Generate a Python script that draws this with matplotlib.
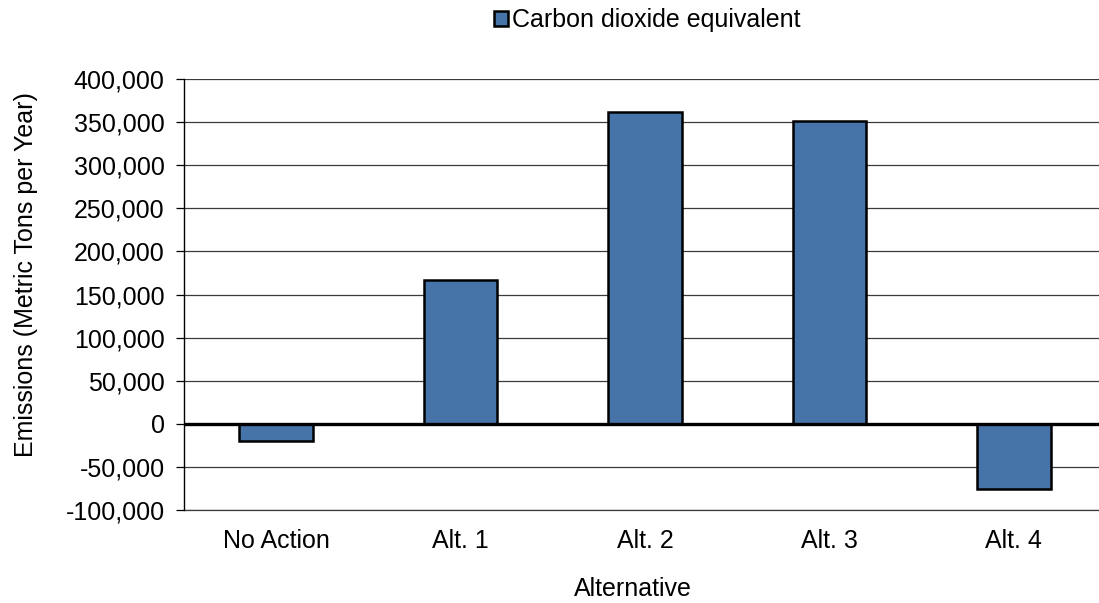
import matplotlib
matplotlib.use("Agg")
import matplotlib.pyplot as plt
from matplotlib.ticker import FuncFormatter, MultipleLocator

plt.rcParams['font.family'] = ['Liberation Sans', 'DejaVu Sans']

# values
alternatives = ["No Action", "Alt. 1", "Alt. 2", "Alt. 3", "Alt. 4"]
co2e = [-20000, 167000, 362000, 351000, -76000]
series_name = "Carbon dioxide equivalent"

W, H = 1099, 603
fig = plt.figure(figsize=(W / 100, H / 100), dpi=100)
ax = fig.add_axes([184 / W, 1 - 510 / H, 922 / W, 431 / H])

bars = ax.bar(range(len(alternatives)), co2e, width=0.40, color="#4674A8",
              edgecolor="black", linewidth=1.8, label=series_name, zorder=3)

ax.set_xlim(-0.5, len(alternatives) - 0.5)
ax.set_ylim(-100000, 400000)
ax.yaxis.set_major_locator(MultipleLocator(50000))
ax.yaxis.set_major_formatter(FuncFormatter(lambda v, p: f"{int(v):,}"))
ax.grid(axis="y", color="#3a3a3a", linewidth=0.9, zorder=0)
# bottom gridline sits on the axis limit, draw it unclipped
ax.axhline(-100000, color="#3a3a3a", linewidth=0.9, clip_on=False, zorder=1)
ax.axhline(0, color="black", linewidth=2.4, zorder=4)

for s in ["top", "right", "bottom"]:
    ax.spines[s].set_visible(False)
ax.spines["left"].set_linewidth(1.0)
ax.spines["left"].set_zorder(5)

ax.set_xticks(range(len(alternatives)))
ax.set_xticklabels(alternatives)
ax.tick_params(axis="x", length=0, pad=14, labelsize=18)
ax.tick_params(axis="y", length=6, width=0.9, direction="out", pad=8, labelsize=18)

fig.text(633 / W, 1 - 589 / H, "Alternative", ha="center", va="center", fontsize=18)
fig.text(26 / W, 1 - 275 / H, "Emissions (Metric Tons per Year)", ha="center",
         va="center", rotation=90, fontsize=18)

fig.legend(handles=[bars], labels=[series_name], loc="center",
           bbox_to_anchor=(647 / W, 1 - 20 / H), frameon=False, fontsize=18,
           handlelength=0.55, handleheight=0.55, handletextpad=0.15,
           borderpad=0, borderaxespad=0)

fig.savefig("out.png", dpi=100)
